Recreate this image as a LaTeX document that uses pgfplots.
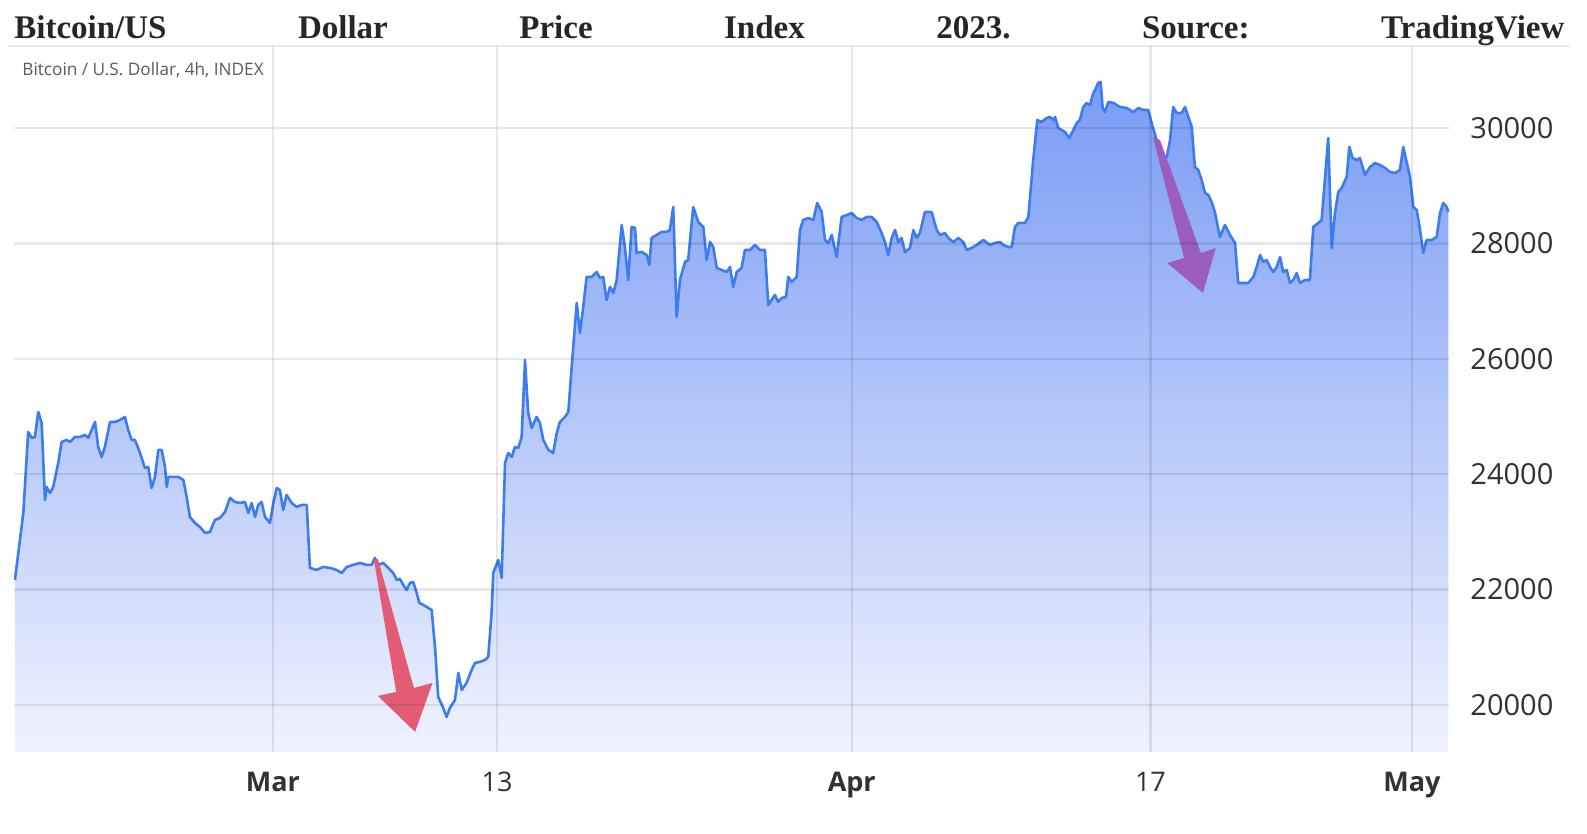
\documentclass[border=0pt]{standalone}
\usepackage{pgfplots}
\pgfplotsset{compat=1.18}
\usepackage{pgfplotstable}
\usepackage{fontspec}
\setmainfont{Open Sans}
\newfontfamily\titlefont{Liberation Serif}
\definecolor{linecol}{RGB}{59,125,240}
\definecolor{filltop}{RGB}{122,155,245}
\definecolor{fillbot}{RGB}{240,243,254}
\definecolor{redarrow}{RGB}{227,92,118}
\definecolor{purparrow}{RGB}{155,93,190}
\definecolor{ticktext}{RGB}{50,50,50}

\pgfplotstableread{
day price
-13.82 22167
-13.37 23328
-13.11 24732
-12.92 24628
-12.75 24645
-12.57 25078
-12.39 24888
-12.21 23554
-12.12 23779
-11.94 23675
-11.77 23779
-11.50 24194
-11.32 24558
-11.05 24593
-10.87 24558
-10.61 24645
-10.34 24645
-10.07 24680
-9.89 24628
-9.53 24905
-9.36 24472
-9.18 24298
-9.00 24472
-8.73 24905
-8.46 24905
-8.19 24940
-7.93 24992
-7.75 24766
-7.57 24593
-7.39 24593
-7.12 24368
-6.86 24108
-6.68 24125
-6.50 23761
-6.32 23952
-6.14 24420
-5.96 24420
-5.78 24125
-5.69 23779
-5.61 23952
-5.34 23952
-5.07 23952
-4.80 23900
-4.62 23605
-4.45 23259
-4.18 23155
-3.91 23085
-3.64 22981
-3.37 22999
-3.11 23207
-2.84 23241
-2.57 23345
-2.30 23588
-2.04 23519
-1.77 23501
-1.50 23519
-1.32 23328
-1.14 23501
-0.96 23259
-0.79 23467
-0.61 23519
-0.43 23259
-0.16 23155
0.02 23501
0.20 23761
0.37 23727
0.55 23380
0.73 23640
1.00 23501
1.27 23432
1.54 23467
1.81 23467
1.98 22375
2.34 22340
2.69 22392
3.05 22375
3.41 22340
3.68 22288
3.95 22392
4.30 22427
4.66 22462
5.02 22427
5.29 22427
5.46 22548
5.64 22427
5.91 22462
6.18 22375
6.44 22288
6.63 22167
6.80 22184
6.98 22080
7.16 21994
7.34 22115
7.51 22132
7.70 21942
7.84 21768
8.05 21734
8.32 21682
8.50 21647
8.68 21006
8.85 20140
9.12 19949
9.30 19793
9.48 19949
9.75 20088
9.93 20555
10.11 20261
10.37 20382
10.64 20607
10.82 20729
11.09 20746
11.36 20781
11.53 20833
11.71 21595
11.80 22288
12.07 22514
12.25 22202
12.43 24194
12.60 24368
12.79 24298
12.96 24472
13.14 24454
13.32 24645
13.50 25979
13.67 25061
13.86 24801
14.12 24992
14.30 24888
14.48 24593
14.75 24420
15.01 24368
15.20 24714
15.37 24905
15.64 24992
15.82 25078
16.00 25858
16.27 26967
16.44 26447
16.62 26898
16.80 27418
17.07 27418
17.34 27504
17.51 27401
17.69 27418
17.87 27019
18.05 27245
18.23 27140
18.41 27366
18.68 28319
18.85 27938
19.03 27366
19.21 28284
19.39 28267
19.48 27834
19.75 27851
20.02 27799
20.16 27626
20.28 28094
20.55 28146
20.82 28198
21.09 28198
21.26 28232
21.44 28631
21.62 26725
21.80 27366
22.07 27678
22.24 27712
22.51 28631
22.78 28371
23.05 28284
23.23 27712
23.41 28024
23.58 27938
23.77 27574
24.03 27539
24.30 27504
24.48 27591
24.65 27245
24.84 27504
25.10 27574
25.28 27886
25.55 27886
25.82 27972
26.08 27886
26.35 27886
26.53 26932
26.71 27019
26.89 27106
27.06 26985
27.25 27054
27.48 27071
27.60 27418
27.78 27331
28.05 27418
28.23 28232
28.40 28406
28.67 28440
28.94 28406
29.15 28700
29.39 28544
29.57 28059
29.74 28007
29.93 28146
30.19 27764
30.46 28458
30.73 28492
31.00 28527
31.26 28440
31.53 28406
31.80 28458
32.07 28458
32.34 28371
32.60 28180
32.78 28024
32.96 27799
33.14 28094
33.32 28232
33.49 28024
33.67 28094
33.85 27851
34.12 27920
34.30 28232
34.48 28094
34.65 28180
34.92 28544
35.28 28544
35.55 28232
35.73 28146
35.99 28180
36.17 28094
36.44 28024
36.71 28094
36.97 28024
37.16 27886
37.42 27920
37.69 27972
38.05 28059
38.40 27972
38.67 28007
38.94 28024
39.12 27972
39.38 27938
39.57 27938
39.74 28284
39.92 28354
40.28 28354
40.46 28458
40.72 29445
40.94 30139
41.17 30104
41.44 30173
41.62 30191
41.79 30139
41.89 30191
42.06 30000
42.24 29965
42.42 29931
42.65 29827
42.87 29965
43.05 30087
43.22 30139
43.40 30364
43.58 30433
43.76 30399
43.94 30607
44.03 30659
44.20 30780
44.33 30797
44.44 30347
44.56 30277
44.74 30451
45.01 30433
45.37 30364
45.73 30347
46.08 30277
46.35 30347
46.61 30312
46.88 30312
47.06 30087
47.33 29792
47.60 29480
47.87 29497
48.05 29792
48.22 30364
48.40 30260
48.67 30260
48.85 30364
49.03 30191
49.21 30017
49.38 29324
49.56 29272
49.74 29099
49.92 28874
50.10 28839
50.28 28718
50.46 28527
50.72 28111
50.99 28319
51.26 28146
51.53 28007
51.70 27314
51.97 27314
52.24 27314
52.51 27418
52.69 27591
52.87 27799
53.04 27678
53.22 27712
53.40 27591
53.58 27504
53.76 27591
53.94 27764
54.11 27504
54.30 27539
54.47 27314
54.65 27366
54.83 27487
55.01 27314
55.28 27366
55.54 27366
55.72 28284
55.99 28354
56.17 28406
56.52 29827
56.71 27920
56.88 28527
57.06 28891
57.24 28960
57.51 29151
57.65 29671
57.83 29480
58.05 29445
58.22 29480
58.49 29185
58.76 29324
59.02 29393
59.29 29359
59.56 29307
59.83 29237
60.10 29220
60.36 29272
60.54 29671
60.72 29411
60.90 29151
61.08 28631
61.26 28579
61.44 28232
61.61 27834
61.79 28059
62.06 28059
62.33 28111
62.51 28527
62.68 28700
62.87 28631
62.95 28544
}\btc

\begin{document}
\begin{tikzpicture}
\path[use as bounding box] (0,0) rectangle (793.5pt,417pt);
\draw[black, opacity=0.08, line width=1pt] (4pt,394pt) -- (785pt,394pt);
\begin{axis}[
  at={(7pt,41pt)}, anchor=south west,
  width=717.5pt, height=353pt, scale only axis,
  xmin=-13.87, xmax=62.99, ymin=19185, ymax=31421,
  axis line style={draw=none},
  major tick length=0pt,
  scaled y ticks=false,
  xtick={0,12,31,47,61},
  xticklabels={\textbf{Mar},13,\textbf{Apr},17,\textbf{May}},
  ytick={20000,22000,24000,26000,28000,30000},
  yticklabels={20000,22000,24000,26000,28000,30000},
  yticklabel pos=right,
  xticklabel style={anchor=north, inner sep=0pt, yshift=-10pt, font=\fontsize{13.5}{16}\selectfont, text=ticktext},
  yticklabel style={anchor=west, inner sep=0pt, xshift=10.5pt, font=\fontsize{14.5}{17}\selectfont, text=ticktext},
  grid=major,
  major grid style={draw=black, draw opacity=0.09, line width=1.2pt},
  axis on top,
]
\addplot[draw=none, top color=filltop, bottom color=fillbot] table[x=day,y=price]{\btc} -- (axis cs:62.95,19185) -- (axis cs:-13.82,19185) -- cycle;
\addplot[linecol, line width=1.3pt, line join=round] table[x=day,y=price]{\btc};
\fill[redarrow] (axis cs:5.41,22513) -- (axis cs:5.62,22531) -- (axis cs:7.55,20295) -- (axis cs:8.55,20382) -- (axis cs:7.61,19533) -- (axis cs:5.62,20157) -- (axis cs:6.60,20226) -- cycle;
\fill[purparrow] (axis cs:47.13,29844) -- (axis cs:47.51,29792) -- (axis cs:49.70,27834) -- (axis cs:50.50,27920) -- (axis cs:49.81,27141) -- (axis cs:47.90,27660) -- (axis cs:48.80,27747) -- cycle;
\end{axis}
\node[anchor=base west, inner sep=0pt, font=\titlefont\bfseries\fontsize{16.5}{18}\selectfont, text=black!85] at (7pt,397.75pt) {\hbox to 775pt{Bitcoin/US\hfill Dollar\hfill Price\hfill Index\hfill 2023.\hfill Source:\hfill TradingView}};
\node[anchor=west, inner sep=0pt, font=\fontsize{8.6}{10}\selectfont, text=black!65] at (11pt,382pt) {Bitcoin / U.S. Dollar, 4h, INDEX};
\end{tikzpicture}
\end{document}
